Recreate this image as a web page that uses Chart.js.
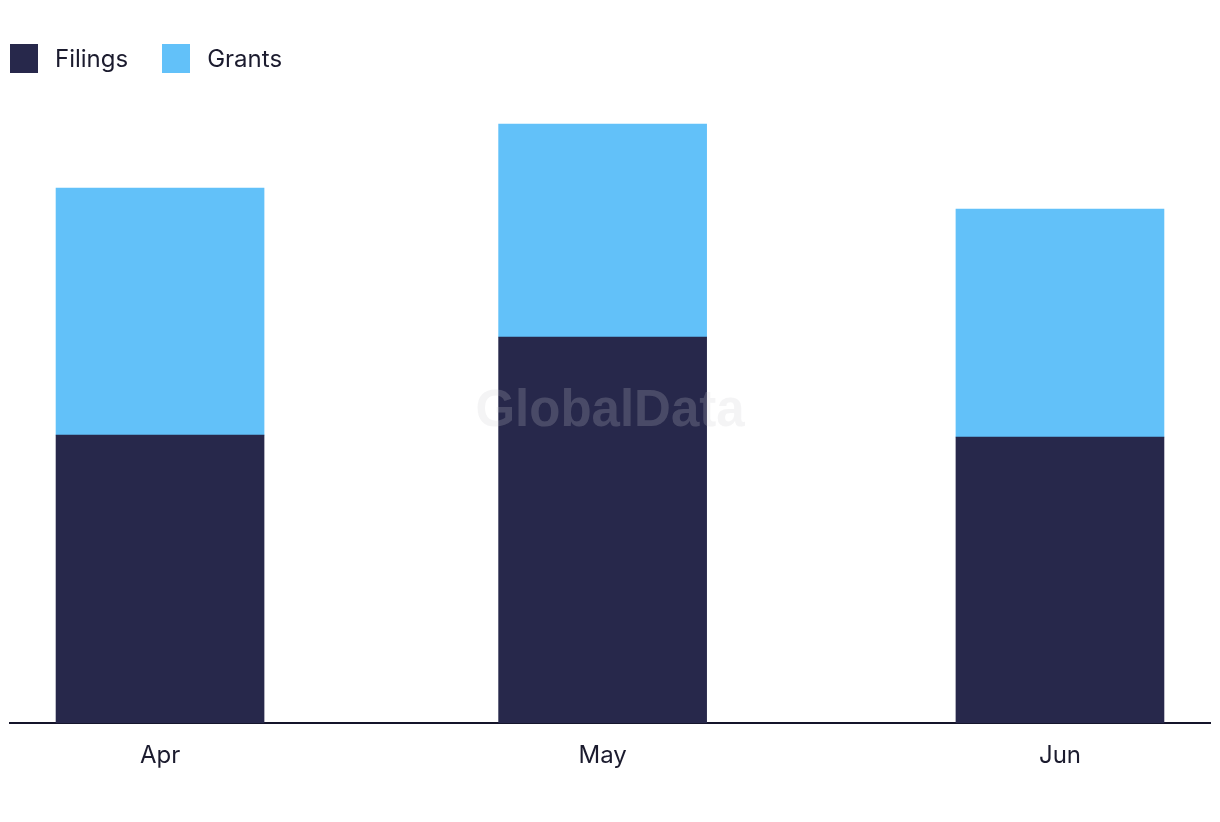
<!DOCTYPE html>
<html>
<head>
<meta charset="utf-8">
<script src="https://cdn.jsdelivr.net/npm/chart.js@4.4.1/dist/chart.umd.min.js"></script>
<style>
  html, body { margin: 0; padding: 0; background: #ffffff; }
  #wrap { position: relative; width: 1220px; height: 822px; }
  #legend { position: absolute; left: 10px; top: 44px; display: flex; align-items: center; font-family: Inter, "Noto Sans", sans-serif; font-size: 24px; color: #1b1b2e; }
  .item { display: flex; align-items: center; margin-right: 34px; }
  .box { width: 28px; height: 29px; margin-right: 17px; }
  canvas { position: absolute; left: 0; top: 0; }
</style>
</head>
<body>
<div id="wrap">
  <canvas id="c" width="1220" height="822"></canvas>
  <div id="legend"></div>
</div>
<script>
// ---- data ----
const months = ['Apr', 'May', 'Jun'];
const monthStarts = ['2023-04-01', '2023-05-01', '2023-06-01'];
const filings = [288, 386, 286];
const grants = [247, 213, 228];
const seriesNames = ['Filings', 'Grants'];
const seriesColors = ['#27284b', '#62c1f9'];

const DAY = 86400000;
const xDays = monthStarts.map(d => Date.parse(d + 'T00:00:00Z') / DAY);
const labelByDay = {};
xDays.forEach((d, i) => { labelByDay[d] = months[i]; });

const seriesValues = [filings, grants];
const datasets = seriesNames.map((name, s) => ({
  label: name,
  data: xDays.map((d, i) => ({ x: d, y: seriesValues[s][i] })),
  backgroundColor: seriesColors[s],
  borderWidth: 0,
  barThickness: 208
}));

// HTML legend
const legendEl = document.getElementById('legend');
seriesNames.forEach((name, s) => {
  const it = document.createElement('div');
  it.className = 'item';
  const b = document.createElement('div');
  b.className = 'box';
  b.style.background = seriesColors[s];
  const t = document.createElement('span');
  t.textContent = name;
  it.appendChild(b); it.appendChild(t);
  legendEl.appendChild(it);
});

const watermark = {
  id: 'watermark',
  afterDatasetsDraw(chart) {
    const { ctx } = chart;
    ctx.save();
    ctx.font = 'bold 51px "Liberation Sans", Arial, sans-serif';
    ctx.fillStyle = 'rgba(203,203,206,0.21)';
    ctx.textAlign = 'center';
    ctx.textBaseline = 'middle';
    ctx.fillText('GlobalData', 610, 412);
    ctx.restore();
  }
};

new Chart(document.getElementById('c'), {
  type: 'bar',
  data: { datasets },
  plugins: [watermark],
  options: {
    responsive: false,
    animation: false,
    layout: { padding: { left: 10, right: 10, top: 100, bottom: 34 } },
    plugins: { legend: { display: false }, tooltip: { enabled: false } },
    scales: {
      x: {
        type: 'linear',
        stacked: true,
        offset: false,
        min: xDays[0] - 10.17,
        max: xDays[xDays.length - 1] + 10.17,
        afterBuildTicks(scale) { scale.ticks = xDays.map(v => ({ value: v })); },
        grid: { display: false, drawTicks: false, offset: false },
        border: { display: true, color: '#14142a', width: 2 },
        ticks: {
          padding: 18,
          color: '#1b1b2e',
          font: { family: 'Inter, "Noto Sans", sans-serif', size: 24 },
          callback: v => labelByDay[v] || '',
          maxRotation: 0,
          autoSkip: false
        }
      },
      y: {
        stacked: true,
        display: false,
        min: 0,
        max: 623
      }
    }
  }
});
</script>
</body>
</html>
